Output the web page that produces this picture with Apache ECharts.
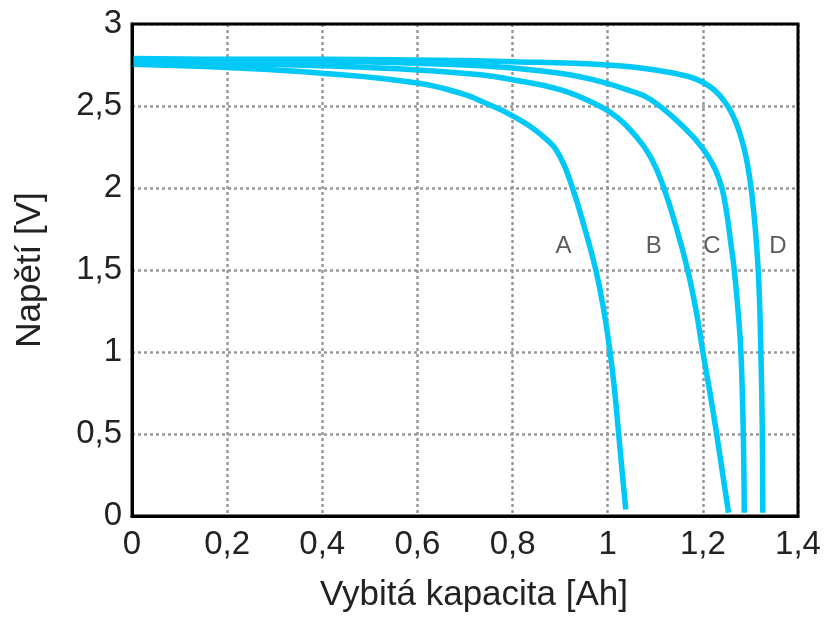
<!DOCTYPE html>
<html>
<head>
<meta charset="utf-8">
<script src="https://cdn.jsdelivr.net/npm/echarts@6/dist/echarts.min.js"></script>
<style>
html,body{margin:0;padding:0;background:#fff;}
#main{width:825px;height:619px;}
</style>
</head>
<body>
<div id="main"></div>
<script>
// krivky vybijeni: [kapacita Ah, napeti V]
var curveA = [[0,2.755],[0.2,2.735],[0.4,2.70],[0.6,2.64],[0.7,2.57],[0.733,2.53],[0.8,2.44],[0.87,2.30],[0.9,2.19],[0.926,2.0],[0.952,1.75],[0.975,1.5],[0.992,1.25],[1.005,1.0],[1.015,0.75],[1.023,0.5],[1.031,0.25],[1.038,0.04]];
var curveB = [[0,2.77],[0.2,2.76],[0.4,2.745],[0.6,2.72],[0.733,2.69],[0.8,2.66],[0.9,2.60],[0.983,2.5],[1.02,2.43],[1.055,2.33],[1.09,2.19],[1.118,2.0],[1.145,1.75],[1.168,1.5],[1.186,1.25],[1.2,1.0],[1.215,0.75],[1.229,0.5],[1.242,0.25],[1.254,0.02]];
var curveC = [[0,2.78],[0.2,2.78],[0.4,2.775],[0.6,2.76],[0.733,2.745],[0.9,2.70],[0.983,2.65],[1.04,2.60],[1.09,2.54],[1.16,2.37],[1.2,2.24],[1.225,2.12],[1.24,2.0],[1.25,1.85],[1.258,1.68],[1.266,1.5],[1.274,1.25],[1.28,1.0],[1.285,0.5],[1.287,0.02]];
var curveD = [[0,2.79],[0.2,2.785],[0.4,2.785],[0.6,2.78],[0.8,2.77],[1.0,2.75],[1.1,2.72],[1.17,2.68],[1.2,2.645],[1.225,2.595],[1.245,2.53],[1.262,2.45],[1.277,2.34],[1.29,2.2],[1.3,2.03],[1.307,1.85],[1.313,1.65],[1.318,1.4],[1.322,1.0],[1.325,0.5],[1.326,0.02]];

var labelNames = ["A","B","C","D"];
var labelX = [0.907,1.097,1.219,1.358];
var labelV = [1.646,1.646,1.646,1.646];

var lineColor = "#00c8f7";
var textColor = "#222";
var fontName = "Liberation Sans";

function fmt(v){
    return String(v).replace(".", ",");
}

function lineSeries(data){
    return {
        type:"line",
        data:data,
        smooth:0.45,
        showSymbol:false,
        lineStyle:{color:lineColor,width:5.5},
        z:3
    };
}

var labelData = [];
for(var i=0;i<labelNames.length;i++){
    labelData.push({value:[labelX[i],labelV[i]],name:labelNames[i]});
}

var myChart = echarts.init(document.getElementById("main"));
var option = {
    animation:false,
    backgroundColor:"#fff",
    grid:{
        left:132,
        right:27,
        top:24,
        bottom:103,
        show:true,
        borderColor:"#000",
        borderWidth:3,
        z:5
    },
    xAxis:{
        type:"value",
        min:0,
        max:1.4,
        interval:0.2,
        name:"Vybitá kapacita [Ah]",
        nameLocation:"middle",
        nameGap:62,
        nameTextStyle:{fontSize:35,color:textColor,fontFamily:fontName,padding:[0,0,0,18]},
        axisLine:{show:true,lineStyle:{color:"#000",width:3}},
        axisTick:{show:false},
        axisLabel:{fontSize:33,color:textColor,margin:12,fontFamily:fontName,formatter:fmt},
        splitLine:{show:true,lineStyle:{color:"#999",width:2.5,type:[3,3]}}
    },
    yAxis:{
        type:"value",
        min:0,
        max:3,
        interval:0.5,
        name:"Napětí [V]",
        nameLocation:"middle",
        nameGap:84,
        nameTextStyle:{fontSize:35,color:textColor,fontFamily:fontName},
        axisLine:{show:true,lineStyle:{color:"#000",width:3}},
        axisTick:{show:false},
        axisLabel:{fontSize:33,color:textColor,margin:10,fontFamily:fontName,formatter:fmt},
        splitLine:{show:true,lineStyle:{color:"#999",width:2.5,type:[3,3]}}
    },
    series:[
        lineSeries(curveA),
        lineSeries(curveB),
        lineSeries(curveC),
        lineSeries(curveD),
        {
            type:"scatter",
            data:labelData,
            symbolSize:1,
            itemStyle:{color:"rgba(0,0,0,0)"},
            label:{
                show:true,
                position:"inside",
                formatter:function(p){return p.name;},
                fontSize:24,
                color:"#333",
                fontFamily:fontName
            },
            z:4
        }
    ]
};
myChart.setOption(option);
</script>
</body>
</html>
